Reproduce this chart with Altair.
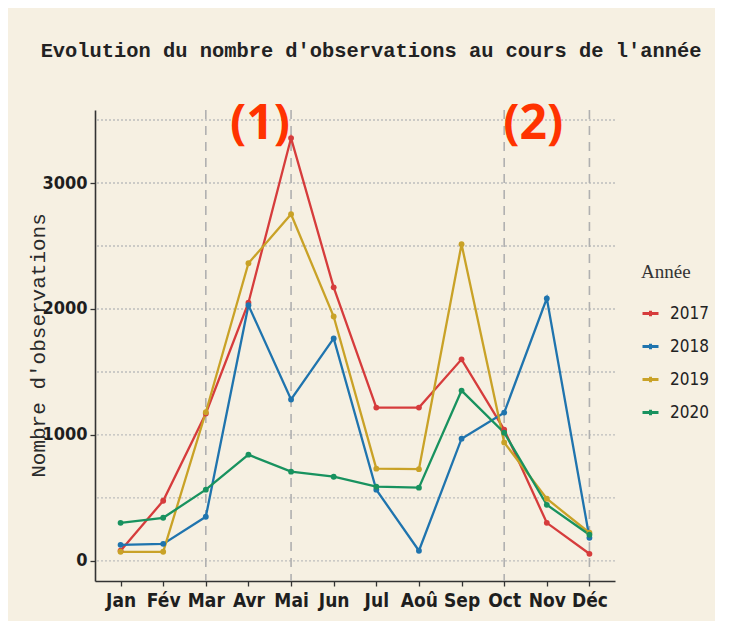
import altair as alt
import pandas as pd

months = ["Jan", "Fév", "Mar", "Avr", "Mai", "Jun", "Jul", "Aoû", "Sep", "Oct", "Nov", "Déc"]
years = ["2017", "2018", "2019", "2020"]
v2017 = [80, 477, 1170, 2050, 3357, 2172, 1217, 1217, 1600, 1042, 302, 56]
v2018 = [127, 135, 350, 2030, 1281, 1766, 565, 80, 970, 1177, 2084, 183]
v2019 = [72, 72, 1180, 2363, 2752, 1940, 732, 728, 2514, 940, 493, 223]
v2020 = [302, 342, 565, 843, 708, 668, 589, 581, 1352, 1018, 445, 207]
colors = ["#D63C3C", "#1F74AE", "#C9A227", "#18925F"]

marked_months = [3, 5, 10, 12]          # dashed vertical lines (Mar, Mai, Oct, Déc)
grid_values = [0, 500, 1000, 1500, 2000, 2500, 3000, 3500]
ann_text = ["(1)", "(2)"]
ann_x = [4.27, 10.68]
ann_y = [3460, 3460]

rows = []
for yr, vals in zip(years, [v2017, v2018, v2019, v2020]):
    for i, v in enumerate(vals):
        rows.append({"Mois": i + 1, "Nombre": v, "Année": yr})
df = pd.DataFrame(rows)

bg = "#F6F0E2"
narrow = "Liberation Sans Narrow, DejaVu Sans Condensed, Liberation Sans, sans-serif"
mono = "Liberation Mono, DejaVu Sans Mono, monospace"

label_expr = "[" + ",".join("'%s'" % m for m in months) + "][datum.value - 1]"

xscale = alt.Scale(domain=[0.4, 12.6], nice=False, zero=False)
yscale = alt.Scale(domain=[-160, 3580], nice=False, zero=False)

grid = alt.Chart(pd.DataFrame({"g": grid_values})).mark_rule(
    color="#BDBDBD", strokeDash=[2, 2], strokeWidth=1.4
).encode(y=alt.Y("g:Q", scale=yscale))

vlines = alt.Chart(pd.DataFrame({"m": marked_months})).mark_rule(
    color="#B0B0B0", strokeDash=[9, 7], strokeWidth=1.6
).encode(x=alt.X("m:Q", scale=xscale))

color = alt.Color(
    "Année:N",
    scale=alt.Scale(domain=years, range=colors),
    legend=alt.Legend(
        title="Année",
        orient="none",
        legendX=546,
        legendY=153,
        titleFont="Liberation Serif, serif",
        titleFontSize=19,
        titleFontWeight="normal",
        titleColor="#333333",
        titlePadding=22,
        labelFont=narrow,
        labelFontSize=17,
        labelColor="#222222",
        labelOffset=10,
        rowPadding=14,
        symbolType="M-1,0L1,0M0,-0.35L0,0.35",
        symbolSize=256,
        symbolStrokeWidth=3,
    ),
)

base = alt.Chart(df).encode(
    x=alt.X(
        "Mois:Q",
        scale=xscale,
        axis=alt.Axis(
            values=list(range(1, 13)),
            labelExpr=label_expr,
            title=None,
            grid=False,
            labelFont=narrow,
            labelFontSize=19,
            labelFontWeight="bold",
            labelColor="#1E1E1E",
            labelPadding=5,
            tickSize=5,
            tickColor="#333333",
            tickWidth=1.3,
            domainColor="#333333",
            domainWidth=1.6,
            labelFlush=False,
        ),
    ),
    y=alt.Y(
        "Nombre:Q",
        scale=yscale,
        axis=alt.Axis(
            values=[0, 1000, 2000, 3000],
            format="d",
            title="Nombre d'observations",
            titleFont=mono,
            titleFontSize=21,
            titleFontWeight="normal",
            titleColor="#2A2A2A",
            titleX=-57,
            titleY=235,
            titleAngle=270,
            titleAlign="center",
            titleBaseline="middle",
            grid=False,
            labelFont=narrow,
            labelFontSize=18,
            labelFontWeight="bold",
            labelColor="#1E1E1E",
            labelPadding=3,
            tickSize=5,
            tickColor="#333333",
            tickWidth=1.3,
            domainColor="#333333",
            domainWidth=1.6,
        ),
    ),
    color=color,
)

lines = base.mark_line(strokeWidth=2.3)
points = base.mark_point(filled=True, size=34, opacity=1)

ann = alt.Chart(pd.DataFrame({"t": ann_text, "x": ann_x, "y": ann_y})).mark_text(
    font="Open Sans", fontSize=48, fontWeight="bold", color="#FF3300", baseline="middle"
).encode(x=alt.X("x:Q", scale=xscale), y=alt.Y("y:Q", scale=yscale), text="t:N")

chart = alt.layer(grid, vlines, lines, points, ann).properties(
    width=520,
    height=471,
    background=bg,
    padding={"left": 87, "top": 102, "right": 100, "bottom": 40},
    autosize=alt.AutoSizeParams(type="none"),
    title=alt.TitleParams(
        "Evolution du nombre d'observations au cours de l'année",
        font=mono,
        fontSize=20.4,
        fontWeight="bold",
        color="#222222",
        anchor="middle",
        dx=16,
        offset=40,
    ),
).configure_view(stroke=None, fill=bg)

chart.save("out.html", embed_options={"renderer": "svg", "actions": False})
